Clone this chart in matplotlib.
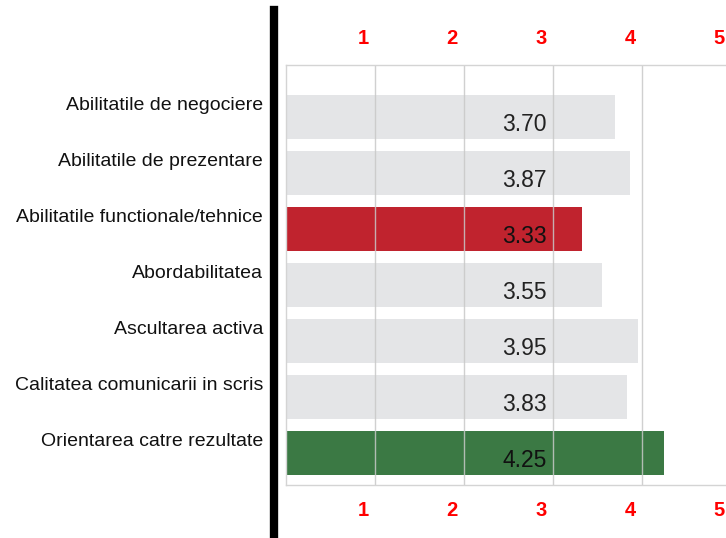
import matplotlib
matplotlib.use("Agg")
import matplotlib.pyplot as plt
import matplotlib.transforms as mtransforms
from matplotlib.lines import Line2D

plt.rcParams['font.family'] = ['Liberation Sans', 'DejaVu Sans']

categories = ["Abilitatile de negociere", "Abilitatile de prezentare",
              "Abilitatile functionale/tehnice", "Abordabilitatea",
              "Ascultarea activa", "Calitatea comunicarii in scris",
              "Orientarea catre rezultate"]
scores = [3.70, 3.87, 3.33, 3.55, 3.95, 3.83, 4.25]
tick_values = [1, 2, 3, 4, 5]

gray = "#e4e5e7"
red = "#c0232e"
green = "#3b7944"
bar_colors = [gray, gray, red, gray, gray, gray, green]
text_colors = ["#222222", "#222222", "#111111", "#222222", "#222222", "#222222", "#111111"]

W, H = 726, 538
fig = plt.figure(figsize=(W / 100, H / 100), dpi=100)

# plot area in pixels: left 286, top 65, bottom 485, 89 px per unit
px_unit = 89
left, top, bottom = 286, 65, 485
ax = fig.add_axes([left / W, 1 - bottom / H, 5.2 * px_unit / W, (bottom - top) / H])
ax.set_xlim(0, 5.2)
ax.set_ylim(6.57, -0.93)

y = list(range(len(categories)))
ax.barh(y, scores, height=0.8, color=bar_colors, zorder=1)

# grid lines on top of bars
for v in tick_values:
    ax.axvline(v, color="#c8c8c8", lw=1, alpha=0.85, zorder=2)

ax.spines["right"].set_visible(False)
for s in ["top", "bottom", "left"]:
    ax.spines[s].set_color("#d4d4d4")
    ax.spines[s].set_linewidth(1)
ax.set_xticks([])
ax.set_yticks([])

def off(dx, dy):
    return mtransforms.ScaledTranslation(dx / 100, dy / 100, fig.dpi_scale_trans)

# category labels and value labels
for i, (cat, val) in enumerate(zip(categories, scores)):
    ax.text(0, i, cat, transform=ax.transData + off(-23, 12),
            ha="right", va="center", fontsize=14, color="#111111")
    ax.text(3, i, f"{val:.2f}", transform=ax.transData + off(-6, -7),
            ha="right", va="center", fontsize=16.5, color=text_colors[i], zorder=3)

# red tick labels top and bottom
tr = mtransforms.blended_transform_factory(ax.transData, ax.transAxes)
for v in tick_values:
    ax.text(v, 1, str(v), transform=tr + off(-12, 27), ha="center", va="center",
            fontsize=14.5, fontweight="bold", color="#ff0000", clip_on=False)
    ax.text(v, 0, str(v), transform=tr + off(-12, -26), ha="center", va="center",
            fontsize=14.5, fontweight="bold", color="#ff0000", clip_on=False)

# thick black vertical line
fig.add_artist(Line2D([274 / W, 274 / W], [0, 1 - 10 / H], color="black", lw=6,
                      transform=fig.transFigure))

fig.savefig("out.png", dpi=100)
